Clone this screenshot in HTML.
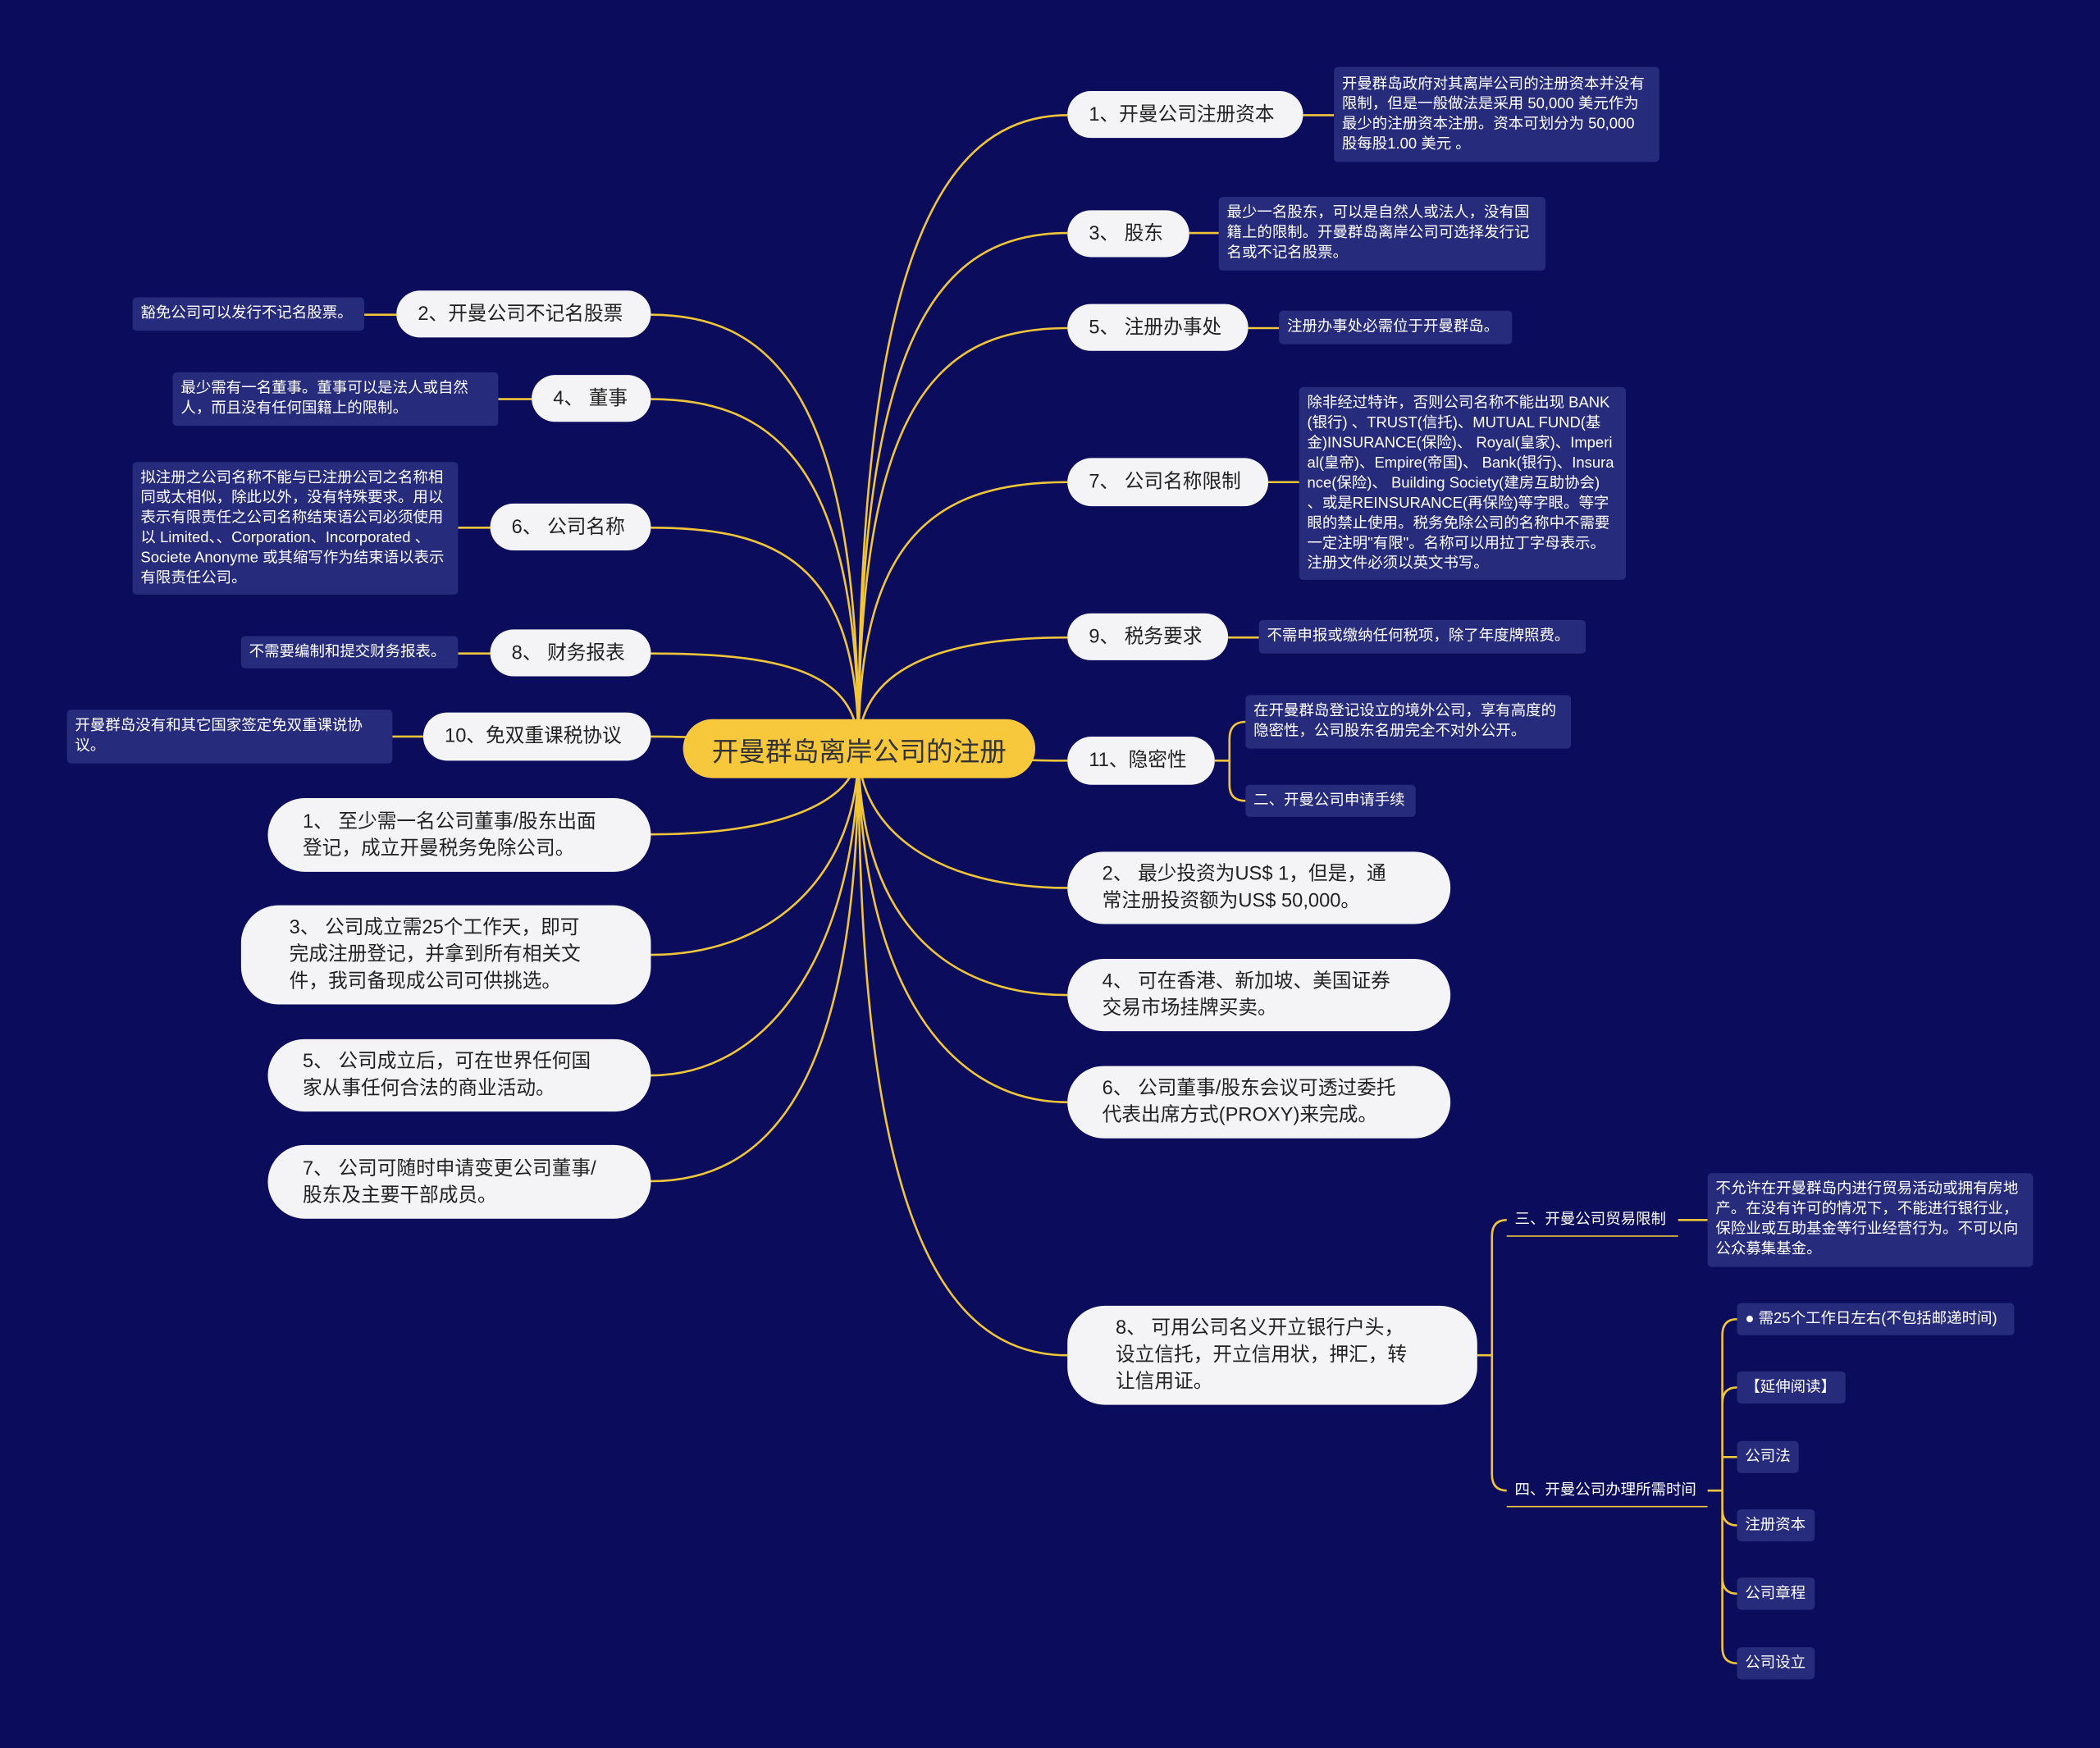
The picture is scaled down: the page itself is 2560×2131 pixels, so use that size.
<!DOCTYPE html>
<html><head><meta charset="utf-8">
<style>
html,body{margin:0;padding:0;background:#0b0c5c;width:2560px;height:2130px;overflow:hidden}
#w{position:absolute;left:0;top:0;width:1568px;height:1305px;transform:scale(1.63265);transform-origin:0 0;font-family:"Liberation Sans","Noto Sans CJK SC",sans-serif}
.n{position:absolute;background:#f4f4f6;color:#222;border-radius:20px;font-size:14.5px;display:flex;align-items:center;box-sizing:border-box;padding:0 16px;line-height:20px}
.big{border-radius:28px;padding:0 34px 0 26px}
.l{position:absolute;background:#272b7c;color:#fff;border-radius:3px;font-size:11.3px;line-height:15px;box-sizing:border-box;padding:4px 6px;display:flex;align-items:center}
.c{position:absolute;background:#f8c83c;color:#333;border-radius:22px;font-size:20px;display:flex;align-items:center;justify-content:center}
svg{position:absolute;left:0;top:0}
</style></head><body><div id="w">
<svg width="1568" height="1305" fill="none" stroke="#f0c53a" stroke-width="1.6">
<path d="M641 559 C641 200 700 86 797 86"/>
<path d="M641 559 C641 250 700 174 797 174"/>
<path d="M641 559 C641 300 700 245 797 245"/>
<path d="M641 559 C641 400 700 360 797 360"/>
<path d="M641 559 C641 500 700 476 797 476"/>
<path d="M641 559 C660 559 720 568 797 568"/>
<path d="M641 559 C641 620 700 663 797 663"/>
<path d="M641 559 C641 680 700 743 797 743"/>
<path d="M641 559 C641 720 700 823 797 823"/>
<path d="M641 559 C641 900 700 1012 797 1012"/>
<path d="M641 559 C641 300 580 235 486 235"/>
<path d="M641 559 C641 350 580 298 486 298"/>
<path d="M641 559 C641 420 580 394 486 394"/>
<path d="M641 559 C641 500 580 488 486 488"/>
<path d="M641 559 C620 559 560 550 486 550"/>
<path d="M641 559 C641 600 580 623 486 623"/>
<path d="M641 559 C641 650 580 713 486 713"/>
<path d="M641 559 C641 700 580 803 486 803"/>
<path d="M641 559 C641 800 580 882 486 882"/>
<path d="M973 86 H996"/><path d="M888 174 H910"/><path d="M932 245 H955"/><path d="M947 360 H970"/><path d="M917 476 H940"/>
<path d="M907 568 H918 M918 568 V552 Q918 539 930 539 M918 568 V586 Q918 598 930 598"/>
<path d="M296 235 H272"/><path d="M397 298 H372"/><path d="M366 394 H342"/><path d="M366 488 H342"/><path d="M316 550 H293"/>
<path d="M1103 1012 H1114 M1114 1012 V923 Q1114 911 1125 911 M1114 1012 V1101 Q1114 1113 1125 1113"/>
<path d="M1253 911 H1275"/>
<path d="M1275 1113 H1286 M1286 1113 V997 Q1286 985 1297 985 M1286 1113 V1048 Q1286 1036 1297 1036 M1286 1088 H1297 M1286 1113 V1127 Q1286 1139 1297 1139 M1286 1113 V1178 Q1286 1190 1297 1190 M1286 1113 V1230 Q1286 1242 1297 1242 M1286 1113 V1088"/>
<path d="M1125 923 H1253 M1125 1125 H1275" stroke-width="1"/>
</svg>
<div class="c" style="left:510px;top:537px;width:263px;height:44px">开曼群岛离岸公司的注册</div>

<div class="n" style="left:797px;top:68px;width:176px;height:35px">1、开曼公司注册资本</div>
<div class="l" style="left:996px;top:50px;width:243px;height:71px">开曼群岛政府对其离岸公司的注册资本并没有限制，但是一般做法是采用 50,000 美元作为最少的注册资本注册。资本可划分为 50,000 股每股1.00 美元 。</div>
<div class="n" style="left:797px;top:157px;width:91px;height:35px">3、 股东</div>
<div class="l" style="left:910px;top:147px;width:244px;height:55px">最少一名股东，可以是自然人或法人，没有国籍上的限制。开曼群岛离岸公司可选择发行记名或不记名股票。</div>
<div class="n" style="left:797px;top:227px;width:135px;height:35px">5、 注册办事处</div>
<div class="l" style="left:955px;top:232px;width:174px;height:25px">注册办事处必需位于开曼群岛。</div>
<div class="n" style="left:797px;top:342px;width:150px;height:36px">7、 公司名称限制</div>
<div class="l" style="left:970px;top:289px;width:244px;height:144px;word-break:break-all">除非经过特许，否则公司名称不能出现 BANK(银行) 、TRUST(信托)、MUTUAL FUND(基金)INSURANCE(保险)、 Royal(皇家)、Imperial(皇帝)、Empire(帝国)、 Bank(银行)、Insurance(保险)、 Building Society(建房互助协会) 、或是REINSURANCE(再保险)等字眼。等字眼的禁止使用。税务免除公司的名称中不需要一定注明"有限"。名称可以用拉丁字母表示。注册文件必须以英文书写。</div>
<div class="n" style="left:797px;top:458px;width:120px;height:35px">9、 税务要求</div>
<div class="l" style="left:940px;top:463px;width:244px;height:25px">不需申报或缴纳任何税项，除了年度牌照费。</div>
<div class="n" style="left:797px;top:550px;width:110px;height:36px">11、隐密性</div>
<div class="l" style="left:930px;top:519px;width:243px;height:40px">在开曼群岛登记设立的境外公司，享有高度的隐密性，公司股东名册完全不对外公开。</div>
<div class="l" style="left:930px;top:586px;width:127px;height:24px">二、开曼公司申请手续</div>
<div class="n big" style="left:797px;top:636px;width:286px;height:54px">2、 最少投资为US$ 1，但是，通常注册投资额为US$ 50,000。</div>
<div class="n big" style="left:797px;top:716px;width:286px;height:54px">4、 可在香港、新加坡、美国证券交易市场挂牌买卖。</div>
<div class="n big" style="left:797px;top:796px;width:286px;height:54px">6、 公司董事/股东会议可透过委托代表出席方式(PROXY)来完成。</div>
<div class="n big" style="left:797px;top:975px;width:306px;height:74px;padding:0 44px 0 36px">8、 可用公司名义开立银行户头，设立信托，开立信用状，押汇，转让信用证。</div>
<div class="l" style="left:1125px;top:899px;width:128px;height:24px;background:none">三、开曼公司贸易限制</div>
<div class="l" style="left:1275px;top:876px;width:243px;height:70px">不允许在开曼群岛内进行贸易活动或拥有房地产。在没有许可的情况下，不能进行银行业，保险业或互助基金等行业经营行为。不可以向公众募集基金。</div>
<div class="l" style="left:1125px;top:1101px;width:150px;height:25px;background:none">四、开曼公司办理所需时间</div>
<div class="l" style="left:1297px;top:973px;width:207px;height:24px">● 需25个工作日左右(不包括邮递时间)</div>
<div class="l" style="left:1297px;top:1024px;width:81px;height:24px">【延伸阅读】</div>
<div class="l" style="left:1297px;top:1076px;width:46px;height:24px">公司法</div>
<div class="l" style="left:1297px;top:1127px;width:58px;height:24px">注册资本</div>
<div class="l" style="left:1297px;top:1178px;width:58px;height:24px">公司章程</div>
<div class="l" style="left:1297px;top:1230px;width:58px;height:24px">公司设立</div>

<div class="n" style="left:296px;top:217px;width:190px;height:35px">2、开曼公司不记名股票</div>
<div class="l" style="left:99px;top:222px;width:173px;height:25px">豁免公司可以发行不记名股票。</div>
<div class="n" style="left:397px;top:280px;width:89px;height:35px">4、 董事</div>
<div class="l" style="left:129px;top:278px;width:243px;height:40px">最少需有一名董事。董事可以是法人或自然人，而且没有任何国籍上的限制。</div>
<div class="n" style="left:366px;top:376px;width:120px;height:35px">6、 公司名称</div>
<div class="l" style="left:99px;top:345px;width:243px;height:99px">拟注册之公司名称不能与已注册公司之名称相同或太相似，除此以外，没有特殊要求。用以表示有限责任之公司名称结束语公司必须使用以 Limited、、Corporation、Incorporated 、Societe Anonyme 或其缩写作为结束语以表示有限责任公司。</div>
<div class="n" style="left:366px;top:470px;width:120px;height:35px">8、 财务报表</div>
<div class="l" style="left:180px;top:475px;width:162px;height:24px">不需要编制和提交财务报表。</div>
<div class="n" style="left:316px;top:532px;width:170px;height:36px">10、免双重课税协议</div>
<div class="l" style="left:50px;top:530px;width:243px;height:40px">开曼群岛没有和其它国家签定免双重课说协议。</div>
<div class="n big" style="left:200px;top:596px;width:286px;height:55px">1、 至少需一名公司董事/股东出面登记，成立开曼税务免除公司。</div>
<div class="n big" style="left:180px;top:676px;width:306px;height:74px;padding:0 44px 0 36px">3、 公司成立需25个工作天，即可完成注册登记，并拿到所有相关文件，我司备现成公司可供挑选。</div>
<div class="n big" style="left:200px;top:776px;width:286px;height:54px">5、 公司成立后，可在世界任何国家从事任何合法的商业活动。</div>
<div class="n big" style="left:200px;top:855px;width:286px;height:55px">7、 公司可随时申请变更公司董事/股东及主要干部成员。</div>
</div></body></html>
